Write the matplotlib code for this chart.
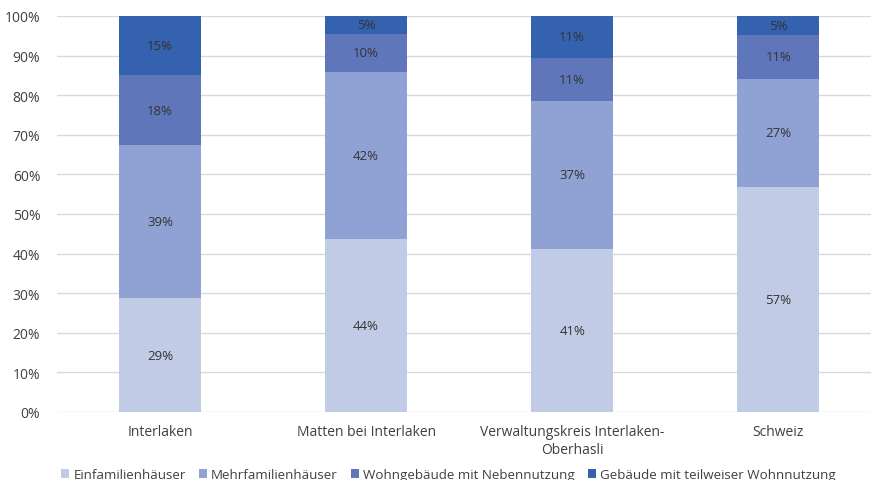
import numpy as np
import matplotlib.pyplot as plt

plt.rcParams["font.family"] = ["Open Sans", "DejaVu Sans"]

categories = ["Interlaken", "Matten bei Interlaken",
              "Verwaltungskreis Interlaken-\nOberhasli", "Schweiz"]
series = ["Einfamilienhäuser", "Mehrfamilienhäuser",
          "Wohngebäude mit Nebennutzung", "Gebäude mit teilweiser Wohnnutzung"]
einfamilien = [28.7, 43.7, 41.2, 56.8]
mehrfamilien = [38.6, 42.2, 37.3, 27.3]
nebennutzung = [17.8, 9.6, 10.9, 11.1]
teilweise = [14.9, 4.6, 10.6, 4.8]

COLORS = ["#c2cbe6", "#8fa2d3", "#5f77ba", "#3462af"]
TXT = "#404040"

fig = plt.figure(figsize=(8.71, 4.81), dpi=100)
ax = fig.add_axes([0.0654, 0.1414, 0.9346, 0.8233])

x = np.arange(len(categories))
bottom = np.zeros(len(categories))
for name, vals, col in zip(series, [einfamilien, mehrfamilien, nebennutzung, teilweise], COLORS):
    vals = np.array(vals)
    ax.bar(x, vals, 0.4, bottom=bottom, color=col, label=name, zorder=2)
    for xi, b, v in zip(x, bottom, vals):
        ax.text(xi, b + v / 2, f"{v:.0f}%", ha="center", va="center",
                fontsize=9.5, color="#333333", zorder=3)
    bottom += vals

ax.set_ylim(0, 100)
ax.set_xlim(-0.5, 3.45)
ax.set_yticks(np.arange(0, 101, 10))
ax.set_yticklabels([f"{t}%" for t in range(0, 101, 10)])
ax.set_xticks(x)
ax.set_xticklabels(categories)
ax.yaxis.grid(True, color="#d9d9d9", lw=1, zorder=0)
ax.tick_params(length=0, labelsize=10, colors=TXT)
ax.tick_params(axis="y", pad=12)
ax.tick_params(axis="x", pad=9)
for s in ax.spines.values():
    s.set_visible(False)

fig.legend(loc="lower center", bbox_to_anchor=(0.515, -0.027), ncol=4, frameon=False,
           fontsize=9.6, handlelength=0.6, handleheight=0.6, handletextpad=0.3,
           columnspacing=1.0, labelcolor=TXT)

fig.savefig("out.png", dpi=100)
